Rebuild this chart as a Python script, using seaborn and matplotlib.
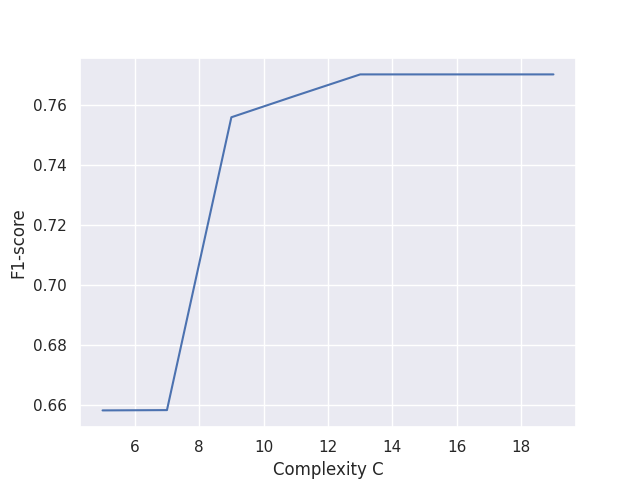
import matplotlib
matplotlib.use("Agg")
import matplotlib.pyplot as plt
import seaborn as sns

# Valores
complexity_c = [5, 7, 9, 11, 13, 15, 17, 19]
f1_scores = [0.6582, 0.6583, 0.7560, 0.7632, 0.7703, 0.7703, 0.7703, 0.7703]

sns.set_theme()
fig, ax = plt.subplots(figsize=(6.4, 4.8), dpi=100)
sns.lineplot(x=complexity_c, y=f1_scores, ax=ax)
ax.set_xlabel("Complexity C")
ax.set_ylabel("F1-score")
fig.savefig("out.png")
